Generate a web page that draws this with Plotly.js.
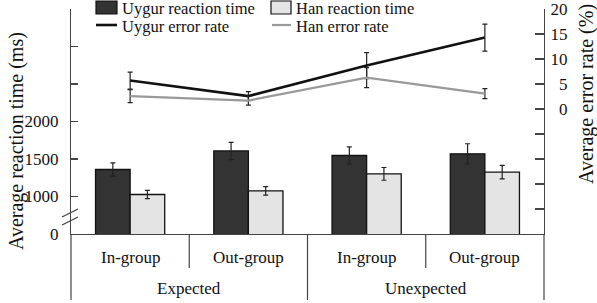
<!DOCTYPE html>
<html>
<head>
<meta charset="utf-8">
<script src="https://cdn.plot.ly/plotly-3.0.1.min.js"></script>
<style>html,body{margin:0;padding:0;background:#fff;}#chart{width:597px;height:303px;}</style>
</head>
<body>
<div id="chart"></div>
<script>
// ---- data ----
const conditions = ["Expected", "Expected", "Unexpected", "Unexpected"];
const groups = ["In-group", "Out-group", "In-group", "Out-group"];
const conditionLabels = ["Expected", "Unexpected"];
const uygurRT = [1360, 1608, 1547, 1569];
const uygurRTErr = [88, 115, 115, 135];
const hanRT = [1027, 1076, 1302, 1324];
const hanRTErr = [55, 57, 85, 90];
const uygurER = [5.7, 2.6, 8.7, 14.3];
const uygurERErr = [1.7, 0.9, 2.6, 2.7];
const hanER = [2.6, 1.7, 6.3, 3.1];
const hanERErr = [1.3, 0.9, 2.0, 1.0];
const rtTickVals = [500, 1000, 1500, 2000, 2500, 3000, 3500];
const rtTickText = ["0", "1000", "1500", "2000", "", "", ""];
const erTickVals = [-25, -20, -15, -10, -5, 0, 5, 10, 15, 20];
const erTickText = ["", "", "", "", "", "\u20070", "\u20075", "10", "15", "20"];
const legendNames = ["Uygur reaction time", "Han reaction time", "Uygur error rate", "Han error rate"];

const cats = conditions.map((c, i) => c + " " + groups[i]);
const FONT = "Liberation Serif, Times New Roman, serif";
const AX = "#444";
const DARK = "#333333", LIGHT = "#e4e4e4";

const errStyle = (arr) => ({type: "data", array: arr, visible: true, color: "#222", thickness: 1.2, width: 2.5});

const traces = [
  {type: "bar", x: cats, y: uygurRT, name: legendNames[0], marker: {color: DARK, line: {color: "#111", width: 1.3}}, error_y: errStyle(uygurRTErr), showlegend: false},
  {type: "bar", x: cats, y: hanRT, name: legendNames[1], marker: {color: LIGHT, line: {color: "#111", width: 1.3}}, error_y: errStyle(hanRTErr), showlegend: false},
  {type: "scatter", mode: "lines", x: cats, y: uygurER, yaxis: "y2", name: legendNames[2], line: {color: "#111", width: 2.6}, error_y: errStyle(uygurERErr), showlegend: false},
  {type: "scatter", mode: "lines", x: cats, y: hanER, yaxis: "y2", name: legendNames[3], line: {color: "#999", width: 2.2}, error_y: errStyle(hanERErr), showlegend: false}
];

// geometry helpers (plot area: left 71, top 9, width 473, height 225)
const L = 71, T = 9, W = 473, H = 225;
const px = (x) => (x - L) / W;
const py = (y) => (T + H - y) / H;
const F = (s) => ({family: FONT, size: s, color: "#111"});

const annotations = [];
groups.forEach((g, i) => annotations.push({xref: "x", yref: "paper", x: i, y: py(257), text: g, showarrow: false, xanchor: "center", yanchor: "middle", font: F(17)}));
conditionLabels.forEach((c, j) => annotations.push({xref: "x", yref: "paper", x: 2 * j + 0.5, y: py(288), text: c, showarrow: false, xanchor: "center", yanchor: "middle", font: F(17)}));
annotations.push({xref: "paper", yref: "paper", x: px(16), y: py(141), text: "Average reaction time (ms)", textangle: -90, showarrow: false, xanchor: "center", yanchor: "middle", font: F(20)});
annotations.push({xref: "paper", yref: "paper", x: px(586), y: py(94), text: "Average error rate (%)", textangle: -90, showarrow: false, xanchor: "center", yanchor: "middle", font: F(20)});
// legend text
const legPos = [[121, 8.5], [295, 8.5], [121, 26.5], [295, 26.5]];
legendNames.forEach((n, i) => annotations.push({xref: "paper", yref: "paper", x: px(legPos[i][0]), y: py(legPos[i][1]), text: n, showarrow: false, xanchor: "left", yanchor: "middle", borderpad: 0, font: F(16.5)}));

const shapes = [
  // legend swatches
  {type: "rect", xref: "paper", yref: "paper", x0: px(96), x1: px(117), y0: py(14), y1: py(1), fillcolor: DARK, line: {color: "#111", width: 1.2}},
  {type: "rect", xref: "paper", yref: "paper", x0: px(271), x1: px(291), y0: py(14), y1: py(1), fillcolor: LIGHT, line: {color: "#111", width: 1.2}},
  {type: "line", xref: "paper", yref: "paper", x0: px(96), x1: px(117), y0: py(25), y1: py(25), line: {color: "#111", width: 2.6}},
  {type: "line", xref: "paper", yref: "paper", x0: px(272), x1: px(291), y0: py(25), y1: py(25), line: {color: "#999", width: 2.2}},
  // category dividers under axis
  {type: "line", xref: "paper", yref: "paper", x0: 0.25, x1: 0.25, y0: 0, y1: py(268), line: {color: AX, width: 1.2}},
  {type: "line", xref: "paper", yref: "paper", x0: 0.75, x1: 0.75, y0: 0, y1: py(268), line: {color: AX, width: 1.2}},
  {type: "line", xref: "paper", yref: "paper", x0: 0.5, x1: 0.5, y0: 0, y1: py(300), line: {color: AX, width: 1.2}},
  {type: "line", xref: "paper", yref: "paper", x0: 0, x1: 0, y0: 0, y1: py(300), line: {color: AX, width: 1.2}},
  {type: "line", xref: "paper", yref: "paper", x0: 1, x1: 1, y0: 0, y1: py(300), line: {color: AX, width: 1.2}},
  // axis break marks
  {type: "line", xref: "paper", yref: "paper", x0: px(62), x1: px(78), y0: py(217), y1: py(209), line: {color: AX, width: 1.3}},
  {type: "line", xref: "paper", yref: "paper", x0: px(62), x1: px(78), y0: py(225), y1: py(217), line: {color: AX, width: 1.3}}
];

const layout = {
  width: 597, height: 303,
  margin: {l: L, r: 597 - L - W, t: T, b: 303 - T - H, pad: 0},
  paper_bgcolor: "#fff", plot_bgcolor: "#fff",
  font: F(17),
  barmode: "group", bargap: 0.415, bargroupgap: 0,
  showlegend: false,
  xaxis: {type: "category", range: [-0.5, 3.5], showticklabels: false, ticks: "", showgrid: false, zeroline: false, showline: true, linecolor: AX, linewidth: 1.2, fixedrange: true},
  yaxis: {range: [500, 3501], tickvals: rtTickVals, ticktext: rtTickText, ticks: "inside", ticklen: 7, tickwidth: 1.2, tickcolor: AX, showgrid: false, zeroline: false, showline: true, linecolor: AX, linewidth: 1.2, tickfont: F(17), ticklabelstandoff: 8},
  yaxis2: {overlaying: "y", side: "right", range: [-25, 20.02], tickvals: erTickVals, ticktext: erTickText, ticks: "inside", ticklen: 9, tickwidth: 1.2, tickcolor: AX, showgrid: false, zeroline: false, showline: true, linecolor: AX, linewidth: 1.2, tickfont: F(17), ticklabelstandoff: 2},
  annotations: annotations,
  shapes: shapes
};

Plotly.newPlot("chart", traces, layout, {staticPlot: true, displayModeBar: false});
</script>
</body>
</html>
